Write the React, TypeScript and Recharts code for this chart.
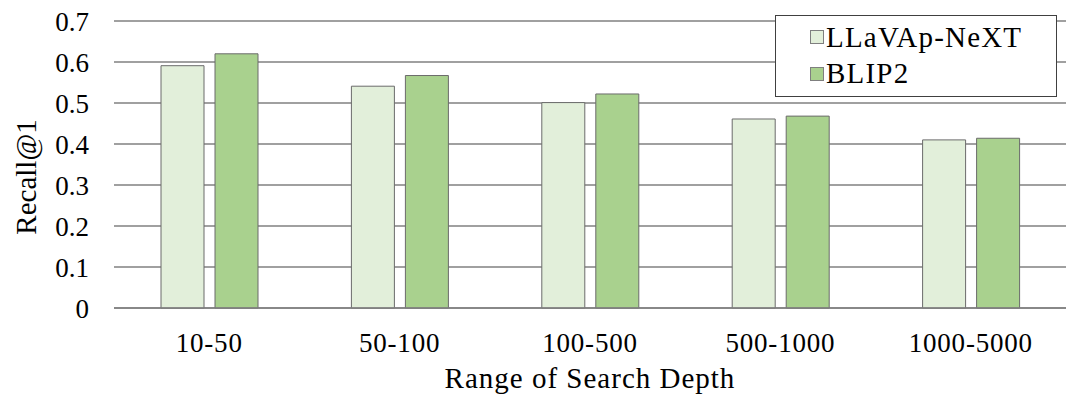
import React from "react";
import {
  BarChart,
  Bar,
  XAxis,
  YAxis,
  CartesianGrid,
  Label,
} from "recharts";

const categories = ["10-50", "50-100", "100-500", "500-1000", "1000-5000"];
const llavaValues = [0.591, 0.541, 0.501, 0.461, 0.41];
const blipValues = [0.62, 0.567, 0.522, 0.468, 0.414];
const yTicks = [0, 0.1, 0.2, 0.3, 0.4, 0.5, 0.6, 0.7];

const seriesNames = ["LLaVAp-NeXT", "BLIP2"];
const colors = ["#E2EFDA", "#A9D18E"];

const data = categories.map((c, i) => ({
  name: c,
  llava: llavaValues[i],
  blip: blipValues[i],
}));

const FONT = "Liberation Serif";

// legend box like the Excel one, drawn on top of the chart
const LegendBox = () => (
  <div
    style={{
      position: "absolute",
      left: 775,
      top: 15,
      border: "1px solid #404040",
      background: "#fff",
      width: 282,
      height: 82,
      boxSizing: "border-box",
      paddingTop: 3,
      fontFamily: FONT,
      fontSize: 29,
      color: "#000",
    }}
  >
    {seriesNames.map((n, i) => (
      <div
        key={n}
        style={{ display: "flex", alignItems: "center", height: 36.5, paddingLeft: 34 }}
      >
        <span
          style={{
            display: "inline-block",
            width: 12,
            height: 12,
            background: colors[i],
            border: "1px solid #7f7f7f",
            marginRight: 2,
          }}
        />
        <span style={{ letterSpacing: 1.2 }}>{n}</span>
      </div>
    ))}
  </div>
);

export default function App() {
  return (
    <div style={{ position: "absolute", left: 0, top: 0, background: "#fff" }}>
      <BarChart
        width={1080}
        height={405}
        data={data}
        margin={{ top: 21, right: 14, left: 0, bottom: 0 }}
        barSize={43}
        barGap={11}
      >
        <CartesianGrid vertical={false} stroke="#808080" strokeWidth={1.5} />
        <XAxis
          dataKey="name"
          height={97}
          axisLine={{ stroke: "#808080", strokeWidth: 1.5 }}
          tickLine={false}
          tickSize={0}
          tickMargin={25}
          interval={0}
          tick={{ fontSize: 27, fill: "#000", fontFamily: FONT, letterSpacing: 0.8 }}
        >
          <Label
            content={({ viewBox }: any) => (
              <text
                x={viewBox.x + viewBox.width / 2}
                y={viewBox.y + 80}
                textAnchor="middle"
                fontSize={29}
                fontFamily={FONT}
                letterSpacing={1}
                fill="#000"
              >
                Range of Search Depth
              </text>
            )}
          />
        </XAxis>
        <YAxis
          width={114}
          domain={[0, 0.7]}
          ticks={yTicks}
          interval={0}
          axisLine={false}
          tickLine={false}
          tickSize={0}
          tickMargin={25}
          tick={{ fontSize: 27, fill: "#000", fontFamily: FONT }}
        >
          <Label
            content={() => (
              <text
                x={36}
                y={177}
                transform="rotate(-90, 36, 177)"
                textAnchor="middle"
                fontSize={29}
                fontFamily={FONT}
                fill="#000"
              >
                Recall@1
              </text>
            )}
          />
        </YAxis>
        <Bar
          dataKey="llava"
          name={seriesNames[0]}
          fill={colors[0]}
          stroke="#6b6b6b"
          strokeWidth={1}
          isAnimationActive={false}
        />
        <Bar
          dataKey="blip"
          name={seriesNames[1]}
          fill={colors[1]}
          stroke="#6b6b6b"
          strokeWidth={1}
          isAnimationActive={false}
        />
      </BarChart>
      <LegendBox />
    </div>
  );
}
